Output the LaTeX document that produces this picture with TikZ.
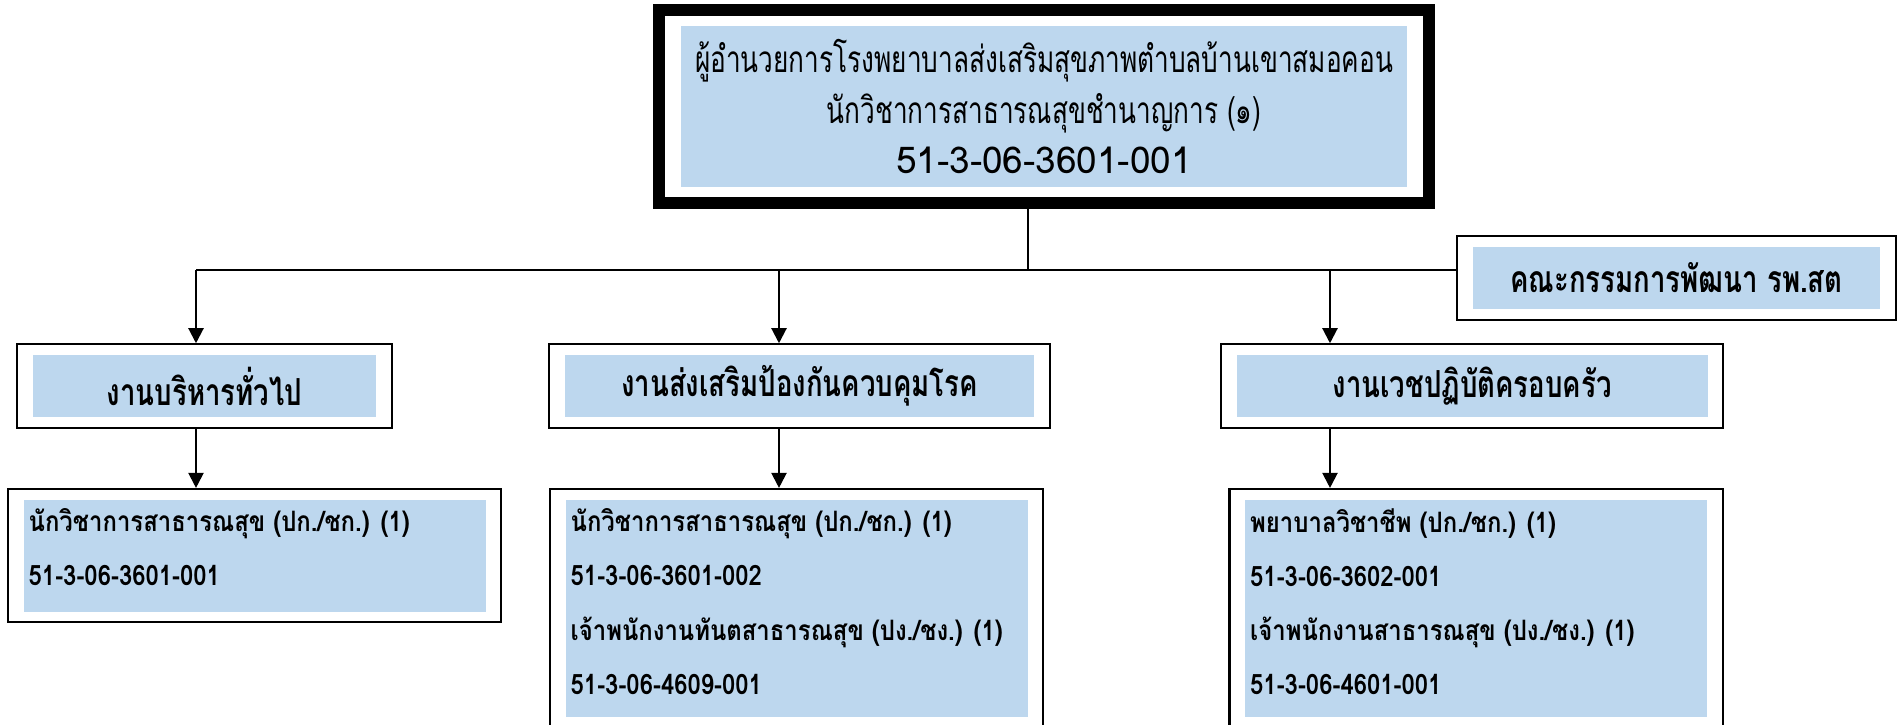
\documentclass[tikz,border=0pt]{standalone}
\usepackage{fontspec}
\newfontfamily\thaifont[Script=Thai]{Loma}
\newfontfamily\thaititle[Script=Thai, FakeStretch=0.71]{Loma}
\newfontfamily\thaihead[Script=Thai, FakeStretch=0.74]{Loma}
\newfontfamily\thailist[Script=Thai, FakeStretch=0.85]{Loma}
\usetikzlibrary{positioning,fit,arrows.meta}
\definecolor{cellblue}{HTML}{BDD7EE}

\begin{document}
\begin{tikzpicture}[
  font=\thaifont,
  cell/.style={fill=cellblue, inner sep=0pt},
  headcell/.style={cell, align=center, minimum height=0.62cm, font=\thaihead\bfseries\fontsize{10.6pt}{12pt}\selectfont},
  listcell/.style={cell, anchor=north west, minimum width=4.62cm},
  listtext/.style={inner sep=0pt, align=left, font=\thailist\bfseries\fontsize{8pt}{15.4pt}\selectfont},
  frame/.style={draw, line width=0.6pt, inner xsep=0.15cm, inner ysep=0.1cm},
  link/.style={line width=0.6pt, -{Triangle[width=0.15cm,length=0.15cm]}}
]
\useasboundingbox (0,0) rectangle (18.98,7.24);
\clip (0,0) rectangle (18.98,7.24);

% director
\node (director) [cell, align=center, minimum width=7.26cm, minimum height=1.61cm, font=\thaifont\fontsize{10.5pt}{14.5pt}\selectfont] at (10.44,6.175) {{\thaititle ผู้อำนวยการโรงพยาบาลส่งเสริมสุขภาพตำบลบ้านเขาสมอคอน}\\{\thaititle นักวิชาการสาธารณสุขชำนาญการ (๑)}\\51-3-06-3601-001};
\node (directorframe) [draw, line width=0.12cm, inner xsep=0.21cm, inner ysep=0.15cm, fit=(director)] {};

% committee
\node (committee) [headcell, minimum width=4.07cm] at (16.765,4.46) {คณะกรรมการพัฒนา รพ.สต};
\node (committeeframe) [frame, fit=(committee)] {};

% sections
\node (admin) [headcell, minimum width=3.43cm] at (2.045,3.38) {งานบริหารทั่วไป};
\node (adminframe) [frame, fit=(admin)] {};
\node (prevent) [headcell, minimum width=4.69cm] at (7.995,3.38) {งานส่งเสริมป้องกันควบคุมโรค};
\node (preventframe) [frame, fit=(prevent)] {};
\node (family) [headcell, minimum width=4.71cm] at (14.72,3.38) {งานเวชปฏิบัติครอบครัว};
\node (familyframe) [frame, fit=(family)] {};

% staff
\node (adminstaff) [listcell, minimum height=1.12cm] at (0.23,2.25) {};
\node (adminstafftext) [listtext, below right=0.09cm and 0.05cm of adminstaff.north west] {นักวิชาการสาธารณสุข (ปก./ชก.) (1)\\51-3-06-3601-001};
\node (adminstaffframe) [frame, fit=(adminstaff)] {};
\node (preventstaff) [listcell, minimum height=2.17cm] at (5.65,2.25) {};
\node (preventstafftext) [listtext, below right=0.09cm and 0.05cm of preventstaff.north west] {นักวิชาการสาธารณสุข (ปก./ชก.) (1)\\51-3-06-3601-002\\เจ้าพนักงานทันตสาธารณสุข (ปง./ชง.) (1)\\51-3-06-4609-001};
\node (preventstaffframe) [frame, fit=(preventstaff)] {};
\node (familystaff) [listcell, minimum height=2.17cm] at (12.445,2.25) {};
\node (familystafftext) [listtext, below right=0.09cm and 0.05cm of familystaff.north west] {พยาบาลวิชาชีพ (ปก./ชก.) (1)\\51-3-06-3602-001\\เจ้าพนักงานสาธารณสุข (ปง./ชง.) (1)\\51-3-06-4601-001};
\node (familystaffframe) [frame, fit=(familystaff)] {};

% connectors
\coordinate (hub) at (10.28,4.54);
\coordinate (armadmin) at (1.96,4.54);
\coordinate (armprevent) at (7.79,4.54);
\coordinate (armfamily) at (13.30,4.54);
\draw[line width=0.6pt] (directorframe.south -| hub) -- (hub);
\draw[line width=0.6pt] (armadmin) -- (committeeframe.west |- hub);
\draw[link] (armadmin) -- (adminframe.north -| armadmin);
\draw[link] (armprevent) -- (preventframe.north -| armprevent);
\draw[link] (armfamily) -- (familyframe.north -| armfamily);
\draw[link] (adminframe.south -| armadmin) -- (adminstaffframe.north -| armadmin);
\draw[link] (preventframe.south -| armprevent) -- (preventstaffframe.north -| armprevent);
\draw[link] (familyframe.south -| armfamily) -- (familystaffframe.north -| armfamily);
\end{tikzpicture}
\end{document}
